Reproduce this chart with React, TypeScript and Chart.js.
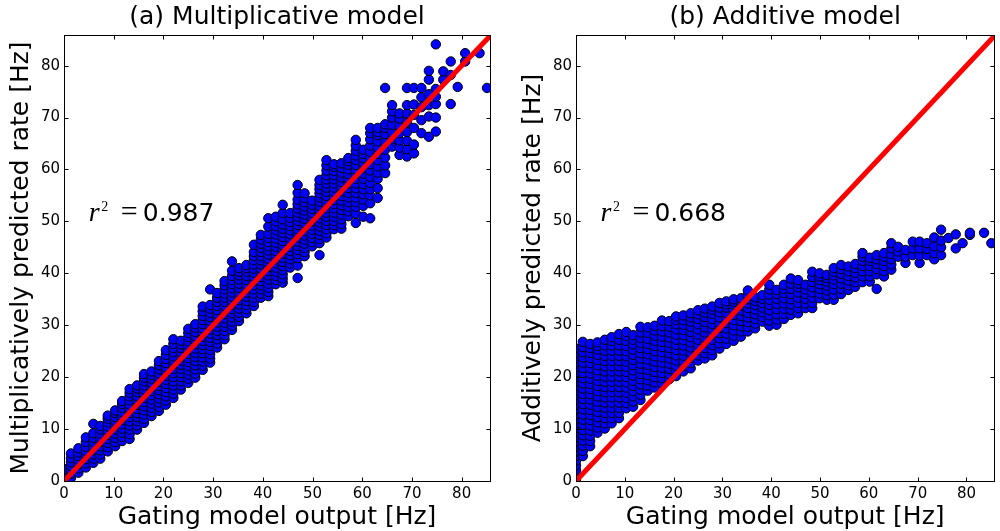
import React, { useEffect, useRef } from "react";
import { Chart, registerables } from "chart.js";

Chart.register(...registerables);

// Gating model output (x) column values, Hz
const gatingX = [
  0, 1.4, 2.9, 4.4, 5.9, 7.3, 8.8, 10.3, 11.7, 13.2,
  14.7, 16.1, 17.6, 19.1, 20.5, 22.0, 23.5, 25.0, 26.4, 27.9,
  29.4, 30.8, 32.3, 33.8, 35.2, 36.7, 38.2, 39.6, 41.1, 42.6,
  44.0, 45.5, 47.0, 48.4, 49.9, 51.4, 52.8, 54.3, 55.8, 57.2,
  58.7, 60.2, 61.6, 63.1, 64.6, 66.0, 67.5, 69.0, 70.4, 71.9,
  73.4, 74.8, 76.3, 77.8, 79.2, 80.7, 82.2, 83.6, 85.1,
];

// Multiplicatively predicted rate, one list per gatingX column
const multY = [
  [0.2, 0.8, 1.5, 2.3],
  [0.6, 1.4, 2.1, 2.9, 3.6, 4.4, 5.3],
  [1.6, 2.4, 3.2, 4.0, 4.8, 5.5, 6.3],
  [2.6, 3.4, 4.2, 5.0, 5.8, 6.6, 7.5, 8.4],
  [3.5, 4.3, 5.1, 5.9, 6.7, 7.5, 8.3, 9.2, 11.0],
  [4.3, 5.1, 5.9, 6.7, 7.5, 8.3, 9.1, 9.9, 10.6],
  [5.7, 6.5, 7.3, 8.1, 8.9, 9.7, 10.5, 11.3, 12.0, 12.6],
  [6.7, 7.5, 8.3, 9.1, 9.9, 10.7, 11.5, 12.3, 13.1, 13.6],
  [7.7, 8.5, 9.3, 10.1, 10.9, 11.7, 12.5, 13.3, 14.1, 14.8, 15.4],
  [8.1, 9.0, 9.9, 10.7, 11.5, 12.3, 13.1, 13.9, 14.7, 15.5, 16.3, 17.0, 17.7],
  [9.9, 10.7, 11.5, 12.3, 13.1, 13.9, 14.7, 15.5, 16.3, 17.1, 17.8, 18.4],
  [11.2, 12.0, 12.8, 13.6, 14.4, 15.2, 16.0, 16.8, 17.6, 18.4, 19.2, 19.9, 20.6],
  [12.5, 13.3, 14.1, 14.9, 15.7, 16.5, 17.3, 18.1, 18.9, 19.7, 20.4, 21.1],
  [13.5, 14.3, 15.1, 15.9, 16.7, 17.5, 18.3, 19.1, 19.9, 20.7, 21.5, 22.3, 23.1],
  [14.7, 15.5, 16.3, 17.1, 17.9, 18.7, 19.5, 20.3, 21.1, 21.9, 22.7, 23.5, 24.3, 25.2],
  [16.0, 16.8, 17.6, 18.4, 19.2, 20.0, 20.8, 21.6, 22.4, 23.2, 24.0, 24.8, 25.6, 26.4, 27.3],
  [17.6, 18.4, 19.2, 20.0, 20.8, 21.6, 22.4, 23.2, 24.0, 24.8, 25.6, 26.3, 27.0],
  [18.9, 19.7, 20.5, 21.3, 22.1, 22.9, 23.7, 24.5, 25.3, 26.1, 26.9, 27.7, 28.5, 29.3],
  [19.9, 20.7, 21.5, 22.3, 23.1, 23.9, 24.7, 25.5, 26.3, 27.1, 27.9, 28.7, 29.5, 30.2],
  [21.4, 22.2, 23.0, 23.8, 24.6, 25.4, 26.2, 27.0, 27.8, 28.6, 29.4, 30.2, 31.0, 31.8, 32.7, 33.6],
  [22.8, 23.6, 24.4, 25.2, 26.0, 26.8, 27.6, 28.4, 29.2, 30.0, 30.8, 31.6, 32.4, 33.2, 33.9, 36.9],
  [25.7, 26.5, 27.3, 28.1, 28.9, 29.7, 30.5, 31.3, 32.1, 32.9, 33.7, 34.5, 35.3, 36.2],
  [27.3, 28.1, 28.9, 29.7, 30.5, 31.3, 32.1, 32.9, 33.7, 34.5, 35.3, 36.1, 36.9, 37.7, 38.5],
  [29.1, 29.9, 30.7, 31.5, 32.3, 33.1, 33.9, 34.7, 35.5, 36.3, 37.1, 37.9, 38.7, 39.5, 40.5, 42.3],
  [30.8, 31.6, 32.4, 33.2, 34.0, 34.8, 35.6, 36.4, 37.2, 38.0, 38.8, 39.6, 40.3, 41.0],
  [32.3, 33.1, 33.9, 34.7, 35.5, 36.3, 37.1, 37.9, 38.7, 39.5, 40.3, 41.0, 41.6],
  [33.7, 34.5, 35.3, 36.1, 36.9, 37.7, 38.5, 39.3, 40.1, 40.9, 41.7, 42.5, 43.3, 44.1, 45.5],
  [35.3, 36.1, 36.9, 37.7, 38.5, 39.3, 40.1, 40.9, 41.7, 42.5, 43.3, 44.1, 44.9, 45.7, 46.5, 47.4],
  [35.6, 36.4, 37.2, 38.0, 38.8, 39.6, 40.4, 41.2, 42.0, 42.8, 43.6, 44.4, 45.2, 46.0, 46.8, 47.6, 49.0, 50.6],
  [37.9, 38.7, 39.5, 40.3, 41.1, 41.9, 42.7, 43.5, 44.3, 45.1, 45.9, 46.7, 47.5, 48.3, 49.1, 50.0, 50.9],
  [38.2, 39.0, 39.8, 40.6, 41.4, 42.2, 43.0, 43.8, 44.6, 45.4, 46.2, 47.0, 47.8, 48.6, 49.4, 50.4, 51.6, 53.2],
  [41.1, 41.9, 42.7, 43.5, 44.3, 45.1, 45.9, 46.7, 47.5, 48.3, 49.1, 49.9, 50.7, 51.6],
  [39.1, 41.5, 42.9, 43.7, 44.5, 45.3, 46.1, 46.9, 47.7, 48.5, 49.3, 50.1, 50.9, 51.7, 52.5, 53.3, 54.2, 55.5, 57.0],
  [43.3, 44.1, 44.9, 45.7, 46.5, 47.3, 48.1, 48.9, 49.7, 50.5, 51.3, 52.1, 52.9, 53.7, 54.5, 55.4],
  [45.2, 46.0, 46.8, 47.6, 48.4, 49.2, 50.0, 50.8, 51.6, 52.4, 53.2, 54.0],
  [43.5, 45.8, 46.6, 47.4, 48.2, 49.0, 49.8, 50.6, 51.4, 52.2, 53.0, 53.8, 54.6, 55.4, 56.2, 57.0, 58.0],
  [46.9, 47.7, 48.5, 49.3, 50.1, 50.9, 51.7, 52.5, 53.3, 54.1, 54.9, 55.7, 56.5, 57.3, 58.1, 58.9, 59.8, 60.8, 61.8],
  [48.5, 49.3, 50.1, 50.9, 51.7, 52.5, 53.3, 54.1, 54.9, 55.7, 56.5, 57.3, 58.1, 58.9, 59.7, 60.5, 61.0],
  [48.6, 49.5, 50.4, 51.3, 52.2, 53.1, 54.0, 54.9, 55.8, 56.7, 57.6, 58.5, 59.4, 60.3, 61.2],
  [51.0, 51.9, 52.8, 53.7, 54.6, 55.5, 56.4, 57.3, 58.2, 59.1, 60.0, 60.9, 61.6, 62.2],
  [49.7, 51.5, 52.8, 53.7, 54.6, 55.5, 56.4, 57.3, 58.2, 59.1, 60.0, 60.9, 61.8, 62.7, 63.6, 64.6, 65.7],
  [50.9, 53.0, 54.2, 55.2, 56.2, 57.2, 58.2, 59.2, 60.2, 61.2, 62.2, 63.0, 63.8],
  [50.6, 53.5, 55.0, 56.2, 57.4, 58.6, 59.8, 61.0, 62.2, 63.4, 64.6, 65.8, 67.0, 68.0],
  [54.5, 56.4, 58.2, 59.4, 60.6, 61.8, 63.0, 64.2, 65.4, 66.6, 67.2, 68.0],
  [59.3, 60.8, 62.3, 63.8, 65.3, 66.8, 68.0, 68.7, 75.7],
  [64.4, 65.8, 67.2, 68.6, 70.0, 71.2, 72.4],
  [62.8, 64.2, 65.6, 67.0, 68.4, 69.8, 70.8],
  [62.5, 63.9, 65.5, 67.2, 69.0, 70.8, 72.4, 75.7],
  [63.1, 64.8, 68.0, 70.5, 72.5, 75.7],
  [67.0, 69.5, 72.0, 73.9, 75.7],
  [66.3, 70.2, 72.4, 74.5, 77.3, 79.0],
  [67.3, 70.0, 72.6, 74.0, 75.5, 84.1],
  [77.3, 78.9],
  [72.6, 78.2, 80.8],
  [75.9],
  [80.8, 82.4],
  [],
  [82.4],
  [75.7],
];

// Additively predicted rate, one list per gatingX column
const addY = [
  [0.3, 1.2, 2.1, 3.0, 3.9, 4.8, 5.7, 6.6, 7.5, 8.4, 9.3, 10.2, 11.1, 12.0, 12.9, 13.8, 14.7, 15.6, 16.5, 17.4, 18.3, 19.2, 20.1, 21.0, 21.9, 22.8, 23.7, 24.6, 25.5],
  [4.8, 5.8, 6.8, 7.8, 8.8, 9.8, 10.8, 11.8, 12.8, 13.8, 14.8, 15.8, 16.8, 17.8, 18.8, 19.8, 20.8, 21.8, 22.8, 23.8, 24.8, 25.8, 26.8],
  [6.7, 7.7, 8.7, 9.7, 10.7, 11.7, 12.7, 13.7, 14.7, 15.7, 16.7, 17.7, 18.7, 19.7, 20.7, 21.7, 22.7, 23.7, 24.7, 25.6, 26.4],
  [9.3, 10.3, 11.3, 12.3, 13.3, 14.3, 15.3, 16.3, 17.3, 18.3, 19.3, 20.3, 21.3, 22.3, 23.3, 24.3, 25.3, 26.0, 26.7],
  [10.1, 11.1, 12.1, 13.1, 14.1, 15.1, 16.1, 17.1, 18.1, 19.1, 20.1, 21.1, 22.1, 23.1, 24.1, 25.1, 26.1, 27.2],
  [11.1, 12.1, 13.1, 14.1, 15.1, 16.1, 17.1, 18.1, 19.1, 20.1, 21.1, 22.1, 23.1, 24.1, 25.1, 26.1, 27.0, 27.7],
  [12.1, 13.1, 14.1, 15.1, 16.1, 17.1, 18.1, 19.1, 20.1, 21.1, 22.1, 23.1, 24.1, 25.1, 26.1, 27.2, 28.3],
  [14.0, 15.0, 16.0, 17.0, 18.0, 19.0, 20.0, 21.0, 22.0, 23.0, 24.0, 25.0, 26.0, 27.0, 27.9, 28.7],
  [14.3, 15.3, 16.3, 17.3, 18.3, 19.3, 20.3, 21.3, 22.3, 23.3, 24.3, 25.3, 26.3, 27.2, 28.1],
  [15.6, 16.6, 17.6, 18.6, 19.6, 20.6, 21.6, 22.6, 23.6, 24.6, 25.6, 26.6, 27.6, 28.6, 29.7],
  [17.4, 18.4, 19.4, 20.4, 21.4, 22.4, 23.4, 24.4, 25.4, 26.4, 27.4, 28.5, 29.6],
  [18.0, 19.0, 20.0, 21.0, 22.0, 23.0, 24.0, 25.0, 26.0, 27.0, 28.0, 29.0, 29.9],
  [18.8, 19.8, 20.8, 21.8, 22.8, 23.8, 24.8, 25.8, 26.8, 27.8, 28.8, 29.8, 30.9],
  [19.6, 20.6, 21.6, 22.6, 23.6, 24.6, 25.6, 26.6, 27.6, 28.6, 29.7, 30.8],
  [20.2, 21.2, 22.2, 23.2, 24.2, 25.2, 26.2, 27.2, 28.2, 29.2, 30.2, 31.0, 31.7],
  [21.1, 22.1, 23.1, 24.1, 25.1, 26.1, 27.1, 28.1, 29.1, 30.1, 31.0, 31.9],
  [21.7, 22.7, 23.7, 24.7, 25.7, 26.7, 27.7, 28.7, 29.7, 30.7, 31.5, 32.3],
  [23.2, 24.2, 25.2, 26.2, 27.2, 28.2, 29.2, 30.2, 31.2, 32.1, 32.9],
  [23.6, 24.6, 25.6, 26.6, 27.6, 28.6, 29.6, 30.6, 31.6, 32.4, 33.2],
  [24.2, 25.2, 26.2, 27.2, 28.2, 29.2, 30.2, 31.2, 32.2, 33.0, 33.6],
  [25.5, 26.5, 27.5, 28.5, 29.5, 30.5, 31.5, 32.5, 33.4, 34.3],
  [26.4, 27.4, 28.4, 29.4, 30.4, 31.4, 32.4, 33.4, 34.0, 34.6],
  [27.0, 28.0, 29.0, 30.0, 31.0, 32.0, 33.0, 34.0, 34.5, 35.0],
  [27.8, 28.8, 29.8, 30.8, 31.8, 32.8, 33.8, 34.6, 35.2],
  [28.8, 29.7, 30.6, 31.5, 32.4, 33.3, 34.2, 35.0, 35.8, 36.7],
  [29.4, 30.3, 31.2, 32.1, 33.0, 33.9, 34.7, 35.4],
  [30.7, 31.6, 32.5, 33.4, 34.3, 35.1, 35.8],
  [29.9, 30.9, 31.9, 32.9, 33.9, 34.9, 35.9, 36.9, 37.8],
  [30.1, 31.1, 32.1, 33.1, 34.1, 35.1, 36.0, 36.8],
  [31.2, 32.2, 33.2, 34.2, 35.2, 36.2, 37.0, 37.8],
  [32.0, 33.0, 34.0, 35.0, 36.0, 37.0, 38.0, 39.0],
  [32.3, 33.3, 34.3, 35.3, 36.3, 37.3, 38.0, 38.7],
  [33.3, 34.2, 35.1, 36.0, 36.9, 37.8],
  [33.3, 34.3, 35.3, 36.3, 37.3, 38.3, 39.3, 40.3],
  [35.2, 36.1, 37.0, 37.9, 38.7, 39.4, 40.0],
  [34.9, 35.8, 36.7, 37.6, 38.4, 39.1, 39.7],
  [34.9, 35.9, 36.9, 37.9, 38.8, 39.6, 40.3, 41.0],
  [36.0, 37.0, 38.0, 39.0, 39.9, 40.8, 41.6],
  [36.8, 37.7, 38.6, 39.5, 40.4, 41.3],
  [37.4, 38.3, 39.2, 40.1, 41.0, 41.8],
  [38.3, 39.4, 40.4, 41.4, 42.4, 43.2, 43.9],
  [38.4, 39.4, 40.4, 41.4, 42.4, 43.0],
  [37.0, 39.8, 40.8, 41.8, 42.7, 43.5],
  [39.4, 40.4, 41.4, 42.4, 43.2, 43.9],
  [40.7, 41.7, 42.7, 43.7, 44.8, 45.8],
  [43.2, 44.2, 45.1],
  [42.0, 43.2, 44.5],
  [43.5, 44.8, 46.1],
  [42.0, 43.4, 44.8, 46.1],
  [43.5, 44.7, 45.8],
  [42.7, 43.9, 45.2, 46.9],
  [43.5, 45.0, 46.3, 48.4],
  [46.8],
  [44.8, 47.5],
  [45.8],
  [47.4, 47.8],
  [],
  [47.8],
  [45.8],
];

const tickValues = [0, 10, 20, 30, 40, 50, 60, 70, 80];
const xMax = 85.7;
const yMax = 85.9;
const identityLine = [0, 90];
const panelTitles = ["(a) Multiplicative model", "(b) Additive model"];
const yAxisLabels = ["Multiplicatively predicted rate [Hz]", "Additively predicted rate [Hz]"];
const xAxisLabel = "Gating model output [Hz]";
const r2Values = ["0.987", "0.668"];
const r2Anchor = [5, 50];

// layout (pixels, per canvas)
const panelLayout = [
  { yAxisWidth: 64, padRight: 10, yLabelX: 28 },
  { yAxisWidth: 76, padRight: 0, yLabelX: 40 },
];

function buildPoints(ys: number[][]) {
  const pts: { x: number; y: number }[] = [];
  gatingX.forEach((x, i) => {
    (ys[i] || []).forEach((y) => pts.push({ x, y }));
  });
  return pts;
}

function framePlugin(idx: number) {
  return {
    id: "frame" + idx,
    afterDraw(chart: any) {
      const { ctx, chartArea: a } = chart;
      const sx = chart.scales.x;
      const sy = chart.scales.y;
      const L = Math.floor(a.left) + 0.5;
      const R = Math.floor(a.right) + 0.5;
      const T = Math.floor(a.top) + 0.5;
      const B = Math.floor(a.bottom) + 0.5;
      ctx.save();
      ctx.strokeStyle = "#000";
      ctx.lineWidth = 1;
      ctx.strokeRect(L, T, R - L, B - T);
      ctx.beginPath();
      for (const v of tickValues) {
        const px = Math.round(sx.getPixelForValue(v)) + 0.5;
        ctx.moveTo(px, B);
        ctx.lineTo(px, B - 4);
        ctx.moveTo(px, T);
        ctx.lineTo(px, T + 4);
        const py = Math.round(sy.getPixelForValue(v)) + 0.5;
        ctx.moveTo(L, py);
        ctx.lineTo(L + 4, py);
        ctx.moveTo(R, py);
        ctx.lineTo(R - 4, py);
      }
      ctx.stroke();

      ctx.fillStyle = "#000";
      const cx = (a.left + a.right) / 2;
      ctx.font = '25px "DejaVu Sans"';
      ctx.textAlign = "center";
      ctx.textBaseline = "alphabetic";
      ctx.fillText(panelTitles[idx], cx, 24);
      ctx.fillText(xAxisLabel, cx, 524);
      ctx.save();
      ctx.translate(panelLayout[idx].yLabelX, (a.top + a.bottom) / 2);
      ctx.rotate(-Math.PI / 2);
      ctx.fillText(yAxisLabels[idx], 0, 0);
      ctx.restore();

      const ax = sx.getPixelForValue(r2Anchor[0]);
      const ay = sy.getPixelForValue(r2Anchor[1]);
      ctx.textAlign = "left";
      ctx.font = 'italic 28px "Liberation Serif"';
      ctx.fillText("r", ax, ay);
      ctx.font = '14px "Liberation Serif"';
      ctx.fillText("2", ax + 12.5, ay - 10);
      ctx.font = '30px "Liberation Serif"';
      ctx.fillText("=", ax + 32, ay);
      ctx.font = '25px "DejaVu Sans"';
      ctx.fillText(r2Values[idx], ax + 54, ay);
      ctx.restore();
    },
  };
}

function makeChart(canvas: HTMLCanvasElement, idx: number) {
  const lay = panelLayout[idx];
  const ys = idx === 0 ? multY : addY;
  const tickFont = { family: "DejaVu Sans", size: 15 };
  return new Chart(canvas, {
    type: "scatter",
    data: {
      datasets: [
        {
          type: "line",
          data: identityLine.map((v) => ({ x: v, y: v })),
          borderColor: "#ff0000",
          borderWidth: 5,
          pointRadius: 0,
          fill: false,
          clip: 0,
          order: 0,
        } as any,
        {
          type: "scatter",
          data: buildPoints(ys),
          backgroundColor: "#0000ff",
          borderColor: "#000000",
          borderWidth: 1,
          pointRadius: 4.7,
          clip: 0,
          order: 1,
        } as any,
      ],
    },
    options: {
      animation: false,
      responsive: false,
      devicePixelRatio: 1,
      events: [],
      layout: { padding: { top: 35, right: lay.padRight, left: 0, bottom: 0 } },
      plugins: {
        legend: { display: false },
        tooltip: { enabled: false },
        title: { display: false },
      },
      scales: {
        x: {
          type: "linear",
          min: 0,
          max: xMax,
          grid: { display: false, drawTicks: false },
          border: { display: false },
          ticks: {
            font: tickFont,
            color: "#000",
            padding: 4,
            maxRotation: 0,
            autoSkip: false,
            includeBounds: false,
          },
          afterBuildTicks: (s: any) => {
            s.ticks = tickValues.map((v) => ({ value: v }));
          },
          afterFit: (s: any) => {
            s.height = 50;
          },
        },
        y: {
          type: "linear",
          min: 0,
          max: yMax,
          grid: { display: false, drawTicks: false },
          border: { display: false },
          ticks: {
            font: tickFont,
            color: "#000",
            padding: 4,
            autoSkip: false,
            includeBounds: false,
          },
          afterBuildTicks: (s: any) => {
            s.ticks = tickValues.map((v) => ({ value: v }));
          },
          afterFit: (s: any) => {
            s.width = lay.yAxisWidth;
          },
        },
      },
    } as any,
    plugins: [framePlugin(idx)],
  });
}

export default function App() {
  const leftRef = useRef<HTMLCanvasElement>(null);
  const rightRef = useRef<HTMLCanvasElement>(null);
  useEffect(() => {
    const c1 = makeChart(leftRef.current as HTMLCanvasElement, 0);
    const c2 = makeChart(rightRef.current as HTMLCanvasElement, 1);
    return () => {
      c1.destroy();
      c2.destroy();
    };
  }, []);
  return (
    <div
      style={{
        position: "absolute",
        left: 0,
        top: 0,
        width: 1000,
        height: 531,
        overflow: "hidden",
        background: "#ffffff",
      }}
    >
      <canvas
        ref={leftRef}
        width={500}
        height={531}
        style={{ position: "absolute", left: 0, top: 0, width: 500, height: 531, display: "block" }}
      />
      <canvas
        ref={rightRef}
        width={500}
        height={531}
        style={{ position: "absolute", left: 500, top: 0, width: 500, height: 531, display: "block" }}
      />
    </div>
  );
}
